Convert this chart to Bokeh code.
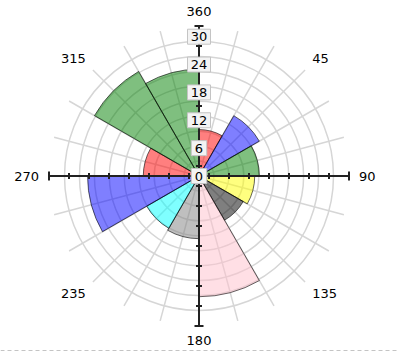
import numpy as np
from bokeh.plotting import figure
from bokeh.models import Range1d, Span
from bokeh.core.properties import value
from bokeh.embed import file_html
from bokeh.resources import INLINE

# ---- data ----
sector_start = [0, 30, 60, 90, 120, 150, 180, 210, 240, 270, 300, 330]
sector_values = [10, 15, 13, 12, 11, 26, 13.5, 13, 24, 12, 26, 23]
sector_colors = ["#ff0000", "#0000ff", "#008000", "#ffff00", "#000000", "#ffc0cb",
                 "#808080", "#00ffff", "#0000ff", "#ff0000", "#008000", "#008000"]
radial_ticks = [0, 6, 12, 18, 24, 30]
angle_labels = ["360", "45", "90", "135", "180", "235", "270", "315"]
angle_positions = [0, 45, 90, 135, 180, 225, 270, 315]

SECTOR_WIDTH = 30
S = 139.3 / 30.0          # pixels per unit
FONT = value("DejaVu Sans")

p = figure(width=398, height=351, output_backend="svg", toolbar_location=None,
           x_range=Range1d(-198.5 / S, 199.5 / S), y_range=Range1d(-175.5 / S, 175.5 / S),
           min_border=0, background_fill_color="white", border_fill_color="white")
p.axis.visible = False
p.grid.visible = False
p.outline_line_color = None

grid_color = "#d6d6d6"
# grid rings
ring_r = [15 * k / S * (134.5 / 135) for k in range(1, 10)]
p.circle(x=[0] * len(ring_r), y=[0] * len(ring_r), radius=ring_r,
         fill_color=None, line_color=grid_color, line_width=1.5)
# radial grid lines every 15 degrees
L = 150 / S
ga = np.deg2rad(np.arange(0, 360, 15))
p.segment(x0=np.zeros(len(ga)), y0=np.zeros(len(ga)), x1=L * np.sin(ga), y1=L * np.cos(ga),
          line_color=grid_color, line_width=1.5)

# sectors
starts = [90 - (a + SECTOR_WIDTH) for a in sector_start]
ends = [90 - a for a in sector_start]
p.wedge(x=0, y=0, radius=sector_values, start_angle=starts, end_angle=ends,
        start_angle_units="deg", end_angle_units="deg", direction="anticlock",
        fill_color=sector_colors, fill_alpha=0.5, line_color="black", line_alpha=0.6,
        line_width=1)

# axes
axc = "#222222"
p.segment(x0=[-L, 0], y0=[0, -L], x1=[L, 0], y1=[0, L], line_color=axc, line_width=2)
tick_r = [(10 + 20 * k) / S for k in range(7)]
th = 3 / S
cap = 4.5 / S
xs0, ys0, xs1, ys1 = [], [], [], []
for r in tick_r:
    for sx in (1, -1):
        xs0.append(sx * r); ys0.append(-th); xs1.append(sx * r); ys1.append(th)
    for sy in (1, -1):
        xs0.append(-th); ys0.append(sy * r); xs1.append(th); ys1.append(sy * r)
p.segment(x0=xs0, y0=ys0, x1=xs1, y1=ys1, line_color=axc, line_width=2)
p.segment(x0=[L, -L, -cap, -cap], y0=[-cap, -cap, L, -L],
          x1=[L, -L, cap, cap], y1=[cap, cap, L, -L], line_color=axc, line_width=2)

# radial value labels with boxes
ly = list(radial_ticks)
bw = [8 + 7.5 * len(str(v)) for v in radial_ticks]
p.rect(x=[0] * len(ly), y=ly, width=bw, height=[15] * len(ly),
       width_units="screen", height_units="screen",
       fill_color="#f3f3f3", line_color="#c4c4c4", line_width=1)
p.text(x=[0] * len(ly), y=ly, text=[str(v) for v in radial_ticks],
       text_font=FONT, text_font_size="13px", text_color="black",
       text_align="center", text_baseline="middle")

# angle labels
R = 160 / S
for lab, ang in zip(angle_labels, angle_positions):
    t = np.deg2rad(ang)
    sx, cy = np.sin(t), np.cos(t)
    align = "center" if abs(sx) < 0.1 else ("left" if sx > 0 else "right")
    base = "middle" if abs(cy) < 0.1 else ("bottom" if cy > 0 else "top")
    p.text(x=[R * sx], y=[R * cy], text=[lab], text_font=FONT, text_font_size="13px",
           text_color="black", text_align=align, text_baseline=base)

# dashed bottom line
p.add_layout(Span(location=-175 / S, dimension="width", line_color="#888888",
                  line_width=1, line_dash="4 3"))

open("out.html", "w").write(file_html(p, INLINE))
